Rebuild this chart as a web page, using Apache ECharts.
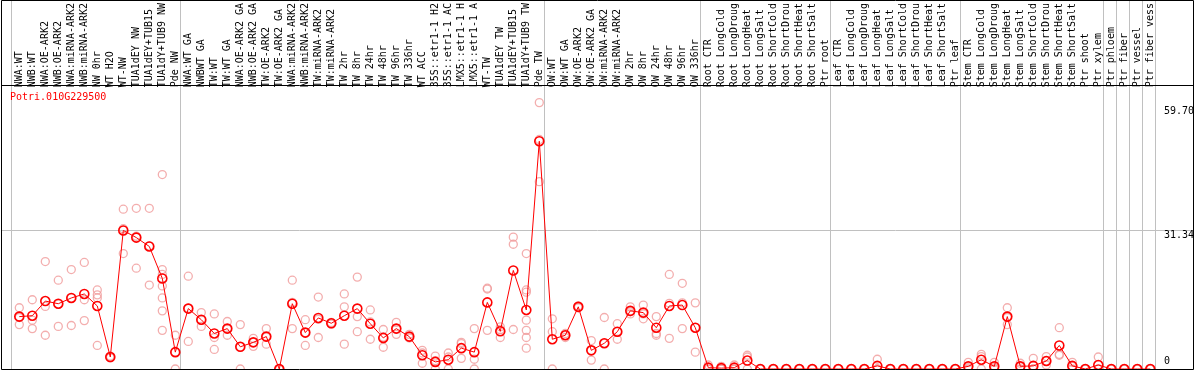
<!DOCTYPE html>
<html>
<head>
<meta charset="utf-8">
<script src="https://cdn.jsdelivr.net/npm/echarts@6/dist/echarts.min.js"></script>
<style>
html,body{margin:0;padding:0;background:#fff;}
#chart{width:1194px;height:370px;}
</style>
</head>
<body>
<div id="chart"></div>
<script>
var geneName = 'Potri.010G229500';

var categories = [
  'NWA:WT','NWB:WT','NWA:OE-ARK2','NWB:OE-ARK2','NWA:miRNA-ARK2','NWB:miRNA-ARK2','NW 0hr','WT H2O','WT-NW','TUA1dEY NW','TUA1dEY+TUB15','TUA1dY+TUB9 NW','Pde NW',
  'NWA:WT GA','NWBWT GA','TW:WT','TW:WT GA','NWA:OE-ARK2 GA','NWB:OE-ARK2 GA','TW:OE-ARK2','TW:OE-ARK2 GA','NWA:miRNA-ARK2','NWB:miRNA-ARK2','TW:miRNA-ARK2','TW:miRNA-ARK2',
  'TW 2hr','TW 8hr','TW 24hr','TW 48hr','TW 96hr','TW 336hr','WT ACC','35S::etr1-1 H2','35S::etr1-1 AC','LMX5::etr1-1 H','LMX5::etr1-1 A','WT-TW','TUA1dEY TW','TUA1dEY+TUB15','TUA1dY+TUB9 TW','Pde TW',
  'OW:WT','OW:WT GA','OW:OE-ARK2','OW:OE-ARK2 GA','OW:miRNA-ARK2','OW:miRNA-ARK2','OW 2hr','OW 8hr','OW 24hr','OW 48hr','OW 96hr','OW 336hr',
  'Root CTR','Root LongCold','Root LongDroug','Root LongHeat','Root LongSalt','Root ShortCold','Root ShortDrou','Root ShortHeat','Root ShortSalt','Ptr root',
  'Leaf CTR','Leaf LongCold','Leaf LongDroug','Leaf LongHeat','Leaf LongSalt','Leaf ShortCold','Leaf ShortDrou','Leaf ShortHeat','Leaf ShortSalt','Ptr leaf',
  'Stem CTR','Stem LongCold','Stem LongDroug','Stem LongHeat','Stem LongSalt','Stem ShortCold','Stem ShortDrou','Stem ShortHeat','Stem ShortSalt','Ptr shoot','Ptr xylem',
  'Ptr phloem','Ptr fiber','Ptr vessel','Ptr fiber vess'
];

// index of the last category of each group (-1 = before the first one)
var groupEnds = [-1, 12, 40, 52, 62, 72, 83, 84, 85, 86, 87];

var means = [
  11.8, 12.0, 15.3, 14.7, 16.0, 16.9, 14.2, 2.7, 31.2, 29.6, 27.6, 20.4, 3.8,
  13.6, 11.1, 8.0, 9.1, 5.0, 6.0, 7.3, 0, 14.7, 8.2, 11.5, 10.3,
  12.0, 13.6, 10.2, 7.0, 9.1, 7.3, 3.1, 1.6, 2.1, 4.7, 3.8, 15.0, 8.5, 22.2, 13.3, 51.3,
  6.7, 7.6, 14.0, 4.2, 5.8, 8.4, 13.1, 12.7, 9.3, 14.2, 14.4, 9.3,
  0.3, 0.2, 0.3, 1.9, 0, 0, 0, 0, 0, 0,
  0, 0, 0, 0.7, 0, 0, 0, 0, 0, 0,
  0.6, 2.1, 0.6, 11.8, 0.6, 0.7, 1.8, 5.3, 0.7, 0, 0.9,
  0, 0, 0, 0
];

var replicates = [
  [13.8,11.6,10.0],[15.6,11.0,9.1],[24.2,14.1,7.6],[20.0,14.6,9.6],[22.4,16.0,9.8],[24.0,15.6,10.9],[17.8,16.7,16.0,5.3],[2.7,2.5,2.9],[36.0,31.6,26.0],[36.2,29.9,22.7],[36.2,27.7,18.9],[43.8,22.4,21.3,18.7,16.0,13.1,8.7],[7.6,3.8,0],
  [20.9,13.7,6.2],[12.7,11.0,9.6],[12.4,7.1,4.4],[10.7,9.0,7.6],[10.0,5.0,0],[6.9,6.0,5.1],[9.1,7.2,5.6],[0,0,0],[20.0,15.0,9.1],[11.1,8.2,5.3],[16.2,11.2,7.1],[10.5,10.3,10.1],
  [16.9,14.0,5.6],[20.7,11.8,8.4],[13.3,10.6,6.7],[8.9,7.2,4.9],[10.5,9.0,7.8],[7.8,7.1,7.0],[4.2,3.6,1.3],[2.9,1.9,0],[3.6,2.7,0],[6.0,5.7,2.4],[9.1,2.2,0],[18.2,18.0,8.7],[9.5,8.9,7.1],[29.7,28.1,8.9],[26.0,17.8,17.3,11.0,8.7,7.1,4.7],[60.0,51.7,42.2],
  [11.3,8.4,0],[8.0,7.6,7.1],[14.2,14.0,13.8],[6.4,4.2,2.0],[11.6,5.8,0],[10.2,8.4,6.7],[14.0,12.9,12.4],[14.4,12.4,11.3],[11.8,8.0,7.6],[21.3,14.8,6.9],[19.3,14.9,9.1],[14.9,9.3,3.8],
  [0.9,0,0],[0.6,0,0],[0.9,0,0],[3.1,2.7,0],[0,0,0],[0,0,0],[0,0,0],[0,0,0],[0,0,0],[0,0,0],
  [0,0,0],[0,0,0],[0,0,0],[2.2,0,0],[0,0,0],[0,0,0],[0,0,0],[0,0,0],[0,0,0],[0,0,0],
  [1.5,0.3,0],[3.3,2.8,0],[1.5,0.3,0],[13.8,11.6,10.0],[1.3,0.5,0],[2.4,0,0],[2.8,1.8,0.9],[9.3,3.3,3.1],[1.5,0.6,0],[0,0,0],[2.7,0,0],
  [0,0,0],[0,0,0],[0,0,0],[0,0,0]
];

var yTickValues = [59.70, 31.34, 0];
var yTickLabels = ['59.70', '31.34', '0'];
var yGridValues = [31.34];

var FONT = '"DejaVu Sans Mono", "Liberation Mono", monospace';

var repPoints = [];
replicates.forEach(function (arr, i) {
  arr.forEach(function (v) { repPoints.push([i, v]); });
});

var chart = echarts.init(document.getElementById('chart'), null, {renderer: 'canvas'});

chart.setOption({
  animation: false,
  backgroundColor: '#ffffff',
  grid: {left: 12.8, right: 37.2, top: 85, bottom: 1, containLabel: false},
  xAxis: {
    type: 'category',
    position: 'top',
    data: categories,
    boundaryGap: true,
    axisLine: {show: false},
    axisTick: {show: false},
    splitLine: {show: false},
    axisLabel: {
      interval: 0,
      rotate: 90,
      margin: 2,
      fontSize: 10,
      fontFamily: FONT,
      color: '#000'
    }
  },
  yAxis: {
    type: 'value',
    min: 0,
    max: 63,
    show: false
  },
  series: [
    {
      type: 'scatter',
      data: repPoints,
      symbol: 'circle',
      symbolSize: 8,
      clip: false,
      z: 2,
      itemStyle: {color: 'rgba(0,0,0,0)', borderColor: '#f09a9a', borderWidth: 1.3},
      emphasis: {disabled: true}
    },
    {
      type: 'line',
      data: means,
      symbol: 'circle',
      symbolSize: 9,
      clip: false,
      z: 3,
      lineStyle: {color: '#ff0000', width: 1},
      itemStyle: {color: 'rgba(0,0,0,0)', borderColor: '#ff0000', borderWidth: 1.6},
      emphasis: {disabled: true}
    }
  ]
});

function drawDecor() {
  var g = [];
  var yBottom = 369.5, W = 1194;
  groupEnds.forEach(function (i) {
    var x = Math.round(chart.convertToPixel({xAxisIndex: 0}, i) + 5) + 0.5;
    if (i < 0) x = Math.round(chart.convertToPixel({xAxisIndex: 0}, 0) - 8) + 0.5;
    g.push({type: 'line', z: 0, silent: true,
      shape: {x1: x, y1: 0, x2: x, y2: yBottom},
      style: {stroke: '#c0c0c0', lineWidth: 1}});
  });
  yGridValues.forEach(function (v) {
    var y = Math.round(chart.convertToPixel({yAxisIndex: 0}, v)) + 0.5;
    g.push({type: 'line', z: 0, silent: true,
      shape: {x1: 1.5, y1: y, x2: 1193.5, y2: y},
      style: {stroke: '#c0c0c0', lineWidth: 1}});
  });
  // frame
  g.push({type: 'rect', z: 10, silent: true,
    shape: {x: 1.5, y: 0.5, width: 1192, height: 369},
    style: {fill: null, stroke: '#000', lineWidth: 1}});
  g.push({type: 'line', z: 10, silent: true,
    shape: {x1: 1.5, y1: 85.5, x2: 1193.5, y2: 85.5},
    style: {stroke: '#000', lineWidth: 1}});
  // y tick labels
  yTickValues.forEach(function (v, k) {
    var y = chart.convertToPixel({yAxisIndex: 0}, v);
    var isZero = (v === 0);
    g.push({type: 'text', z: 5, silent: true,
      x: 1164, y: isZero ? y - 3 : y + (k === 0 ? 2 : 1),
      style: {text: yTickLabels[k], font: '10px ' + FONT, fill: '#000',
        textAlign: 'left', textVerticalAlign: isZero ? 'bottom' : 'top'}});
  });
  // gene title
  g.push({type: 'text', z: 5, silent: true, x: 10, y: 97,
    style: {text: geneName, font: '10px ' + FONT, fill: '#ff0000',
      textAlign: 'left', textVerticalAlign: 'middle'}});
  chart.setOption({graphic: g});
}
drawDecor();
</script>
</body>
</html>
